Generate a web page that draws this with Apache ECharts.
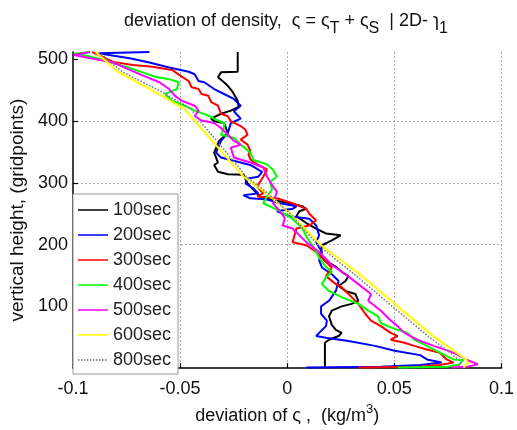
<!DOCTYPE html>
<html>
<head>
<meta charset="utf-8">
<script src="https://cdn.jsdelivr.net/npm/echarts@6/dist/echarts.min.js"></script>
<style>html,body{margin:0;padding:0;background:#fff}#c{width:517px;height:430px}</style>
</head>
<body>
<div id="c"></div>
<script>
const seriesNames = ['100sec','200sec','300sec','400sec','500sec','600sec','800sec'];
const xTicks = [-0.1, -0.05, 0, 0.05, 0.1];
const yTicks = [100, 200, 300, 400, 500];

const s100 = [[-0.0231,512],[-0.0231,480],[-0.0309,479],[-0.0323,471],[-0.0295,463],[-0.0277,457],[-0.0254,447],[-0.0231,433],[-0.0227,423],[-0.0263,417],[-0.0309,412],[-0.0355,404],[-0.0341,400],[-0.0295,397],[-0.0277,381],[-0.0318,368],[-0.0341,349],[-0.0323,333],[-0.0341,329],[-0.0323,318],[-0.0277,314],[-0.0204,313],[-0.0185,299],[-0.0158,289],[-0.0126,278],[-0.0080,273],[0.0011,267],[0.0071,262],[0.0089,258],[0.0057,254],[0.0043,246],[0.0089,235],[0.0135,226],[0.0181,218],[0.0249,215],[0.0208,207],[0.0162,199],[0.0158,186],[0.0172,175],[0.0195,171],[0.0227,164],[0.0254,156],[0.0286,149],[0.0272,141],[0.0240,133],[0.0272,125],[0.0318,120],[0.0332,109],[0.0300,104],[0.0254,100],[0.0208,93],[0.0195,84],[0.0208,70],[0.0227,62],[0.0254,57],[0.0240,52],[0.0195,46],[0.0176,41],[0.0176,1]];

const s200 = [[-0.0643,512],[-0.088,510],[-0.081,506],[-0.0735,502],[-0.0643,495],[-0.0551,487],[-0.0460,480],[-0.0432,476],[-0.0414,465],[-0.0387,463],[-0.0341,452],[-0.0295,444],[-0.0249,436],[-0.0217,425],[-0.0249,416],[-0.0217,404],[-0.0263,397],[-0.0277,381],[-0.0309,368],[-0.0332,349],[-0.0309,341],[-0.0263,337],[-0.0172,329],[-0.0117,318],[-0.0135,310],[-0.0185,307],[-0.0195,299],[-0.0158,291],[-0.0135,283],[-0.0204,280],[-0.0172,275],[-0.0094,273],[-0.0034,267],[0.0043,262],[0.0025,258],[-0.0048,254],[0.0011,246],[0.0103,242],[0.0135,231],[0.0149,215],[0.0135,204],[0.0162,188],[0.0149,175],[0.0162,163],[0.0208,152],[0.0240,141],[0.0227,125],[0.0195,109],[0.0158,100],[0.0158,88],[0.0185,77],[0.0181,68],[0.0149,57],[0.0135,52],[0.0181,49],[0.0286,44],[0.0410,36],[0.0501,28],[0.0620,21],[0.0652,14],[0.0721,9],[0.0620,5],[0.0437,2],[0.0089,1]];

const s300 = [[-0.091,512],[-0.0904,510],[-0.0812,496],[-0.0721,491],[-0.0629,488],[-0.0538,483],[-0.0492,472],[-0.0460,465],[-0.0446,455],[-0.0414,452],[-0.0400,444],[-0.0368,441],[-0.0355,431],[-0.0323,425],[-0.0309,412],[-0.0277,408],[-0.0263,400],[-0.0217,392],[-0.0195,386],[-0.0185,378],[-0.0217,370],[-0.0185,362],[-0.0172,352],[-0.0181,346],[-0.0172,338],[-0.0140,330],[-0.0094,322],[-0.0112,310],[-0.0140,294],[-0.0112,283],[-0.0140,278],[-0.0048,275],[0.0025,267],[0.0089,258],[0.0103,250],[0.0135,239],[0.0103,231],[0.0043,226],[0.0025,204],[0.0089,199],[0.0135,188],[0.0181,172],[0.0208,163],[0.0181,149],[0.0227,136],[0.0254,131],[0.0286,120],[0.0332,104],[0.0364,88],[0.0391,77],[0.0437,68],[0.0483,57],[0.0515,52],[0.0483,46],[0.0547,41],[0.0593,36],[0.0652,30],[0.0712,25],[0.0744,14],[0.0776,9],[0.0712,5],[0.0606,2],[0.0332,1]];

const s400 = [[-0.092,512],[-0.0995,509],[-0.0950,507],[-0.0858,499],[-0.0753,488],[-0.0675,479],[-0.0616,472],[-0.0551,468],[-0.0506,463],[-0.0515,452],[-0.0570,444],[-0.0538,433],[-0.0478,425],[-0.0432,417],[-0.0368,409],[-0.0323,401],[-0.0295,397],[-0.0295,389],[-0.0309,378],[-0.0249,373],[-0.0217,362],[-0.0172,349],[-0.0158,337],[-0.0094,330],[-0.0066,321],[-0.0048,310],[-0.0080,302],[-0.0071,289],[-0.0094,278],[-0.0112,267],[-0.0080,262],[-0.0034,254],[0.0025,242],[0.0071,226],[0.0094,210],[0.0117,199],[0.0149,179],[0.0181,164],[0.0208,156],[0.0181,147],[0.0162,136],[0.0195,125],[0.0254,115],[0.0332,104],[0.0378,93],[0.0423,84],[0.0437,73],[0.0469,68],[0.0515,62],[0.0561,57],[0.0593,46],[0.0652,36],[0.0712,25],[0.0776,14],[0.0822,13],[0.0803,6],[0.0744,2],[0.0515,1]];

const s500 = [[-0.092,512],[-0.0995,507],[-0.0918,502],[-0.0812,495],[-0.0735,483],[-0.0661,472],[-0.0597,463],[-0.0551,452],[-0.0524,441],[-0.0492,433],[-0.0432,425],[-0.0414,417],[-0.0432,408],[-0.0400,401],[-0.0341,397],[-0.0309,389],[-0.0277,378],[-0.0249,368],[-0.0217,362],[-0.0263,357],[-0.0249,341],[-0.0172,333],[-0.0112,325],[-0.0094,310],[-0.0066,294],[-0.0048,286],[-0.0066,267],[-0.0034,254],[-0.0011,243],[-0.0021,231],[0.0025,226],[0.0057,215],[0.0089,204],[0.0149,188],[0.0208,167],[0.0272,152],[0.0332,136],[0.0391,120],[0.0378,109],[0.0437,93],[0.0483,77],[0.0515,68],[0.0547,57],[0.0606,46],[0.0684,36],[0.0776,25],[0.0835,14],[0.0890,6],[0.0835,2],[0.0767,1]];

const s600 = [[-0.0895,512],[-0.079,480],[-0.063,450],[-0.048,420],[-0.0414,393],[-0.0309,352],[-0.0204,310],[-0.0094,283],[0.0011,251],[0.0158,199],[0.0346,150],[0.0515,100],[0.0684,51],[0.079,25],[0.0835,14],[0.0844,8],[0.0822,1]];

const s800 = [[-0.088,512],[-0.077,480],[-0.060,450],[-0.045,420],[-0.039,393],[-0.029,352],[-0.019,310],[-0.009,283],[0.001,251],[0.0145,199],[0.032,150],[0.049,100],[0.066,51],[0.076,25],[0.080,14],[0.081,8],[0.079,1]];

const seriesData = [s100, s200, s300, s400, s500, s600, s800];
const colors = ['#000000','#0000ff','#ff0000','#00ff00','#ff00ff','#ffff00','#808080'];

const FONT = '"Liberation Sans", Arial, Helvetica, sans-serif';
const chart = echarts.init(document.getElementById('c'), null, {renderer: 'canvas'});

// legend icons: a thin horizontal line inside a 30x18 box (tiny corner dots fix the box extent)
const solidIcon = 'path://M0,0h0.05v0.05h-0.05z M29.95,17.95h0.05v0.05h-0.05z M0,8.2h30v1.6h-30z';
let dots = '';
for (let k = 0; k < 30; k += 3) dots += ' M' + k + ',8.3h1.4v1.4h-1.4z';
const dottedIcon = 'path://M0,0h0.05v0.05h-0.05z M29.95,17.95h0.05v0.05h-0.05z' + dots;

const series = seriesNames.map((n, i) => ({
  name: n,
  type: 'line',
  data: seriesData[i],
  symbol: 'none',
  showSymbol: false,
  smooth: false,
  animation: false,
  lineStyle: {color: colors[i], width: i === 6 ? 1.6 : 2, type: i === 6 ? 'dotted' : 'solid'},
  itemStyle: {color: colors[i]},
  z: 2 + i
}));

const option = {
  animation: false,
  backgroundColor: '#fff',
  title: {
    left: 119, top: 7,
    text: '{n|deviation of density,  ς = ς}{sub|T}{n| + ς}{sub|S}{n|  | 2D- ɿ}{sub|1}',
    textStyle: {
      fontWeight: 'normal',
      rich: {
        n: {fontSize: 18, fontWeight: 'normal', fontFamily: FONT, color: '#111', lineHeight: 24, verticalAlign: 'top'},
        sub: {fontSize: 16, fontWeight: 'normal', fontFamily: FONT, color: '#111', lineHeight: 24, verticalAlign: 'top', padding: [9, 0, 0, 0]}
      }
    }
  },
  grid: {left: 69, right: 11, top: 52, bottom: 54, containLabel: false},
  legend: {
    orient: 'vertical', left: 73, top: 194,
    itemWidth: 30, itemHeight: 18, itemGap: 7, itemTextGap: 3,
    padding: [7, 7, 5, 5],
    backgroundColor: '#fff', borderColor: '#999', borderWidth: 1,
    textStyle: {fontSize: 18, fontFamily: FONT, color: '#222', lineHeight: 18},
    data: seriesNames.map((n, i) => ({name: n, icon: i === 6 ? dottedIcon : solidIcon,
      itemStyle: {color: i === 6 ? '#666' : colors[i]}}))
  },
  xAxis: {
    type: 'value', min: -0.1, max: 0.1, interval: 0.05,
    name: '{n|deviation of ς ,  (kg/m}{sup|3}{n|)}',
    nameLocation: 'middle', nameGap: 34,
    nameTextStyle: {
      rich: {
        n: {fontSize: 18, fontFamily: FONT, color: '#111', lineHeight: 22, verticalAlign: 'top', padding: [4, 0, 0, 0]},
        sup: {fontSize: 13, fontFamily: FONT, color: '#111', lineHeight: 22, verticalAlign: 'top'}
      }
    },
    axisLine: {onZero: false, lineStyle: {color: '#000', width: 1.5}},
    axisTick: {inside: true, length: 5, lineStyle: {color: '#000', width: 1.2}},
    axisLabel: {fontSize: 18, fontFamily: FONT, color: '#111', margin: 12,
      formatter: v => { const t = xTicks.find(k => Math.abs(k - v) < 1e-9); return t === undefined ? '' : String(t); }},
    splitLine: {show: true, showMinLine: false, lineStyle: {color: '#aaa', type: [2, 2], width: 1}}
  },
  yAxis: {
    type: 'value', min: 0, max: 512, interval: 100,
    name: 'vertical height, (gridpoints)',
    nameLocation: 'middle', nameGap: 41, nameRotate: 90,
    nameTextStyle: {fontSize: 19, fontFamily: FONT, color: '#111'},
    axisLine: {onZero: false, lineStyle: {color: '#000', width: 1.5}},
    axisTick: {inside: true, length: 5, customValues: yTicks, lineStyle: {color: '#000', width: 1.2}},
    axisLabel: {fontSize: 18, fontFamily: FONT, color: '#111', margin: 5, customValues: yTicks},
    splitLine: {show: true, showMinLine: false, showMaxLine: false, lineStyle: {color: '#aaa', type: [2, 2], width: 1}}
  },
  series: series
};
chart.setOption(option);
</script>
</body>
</html>
